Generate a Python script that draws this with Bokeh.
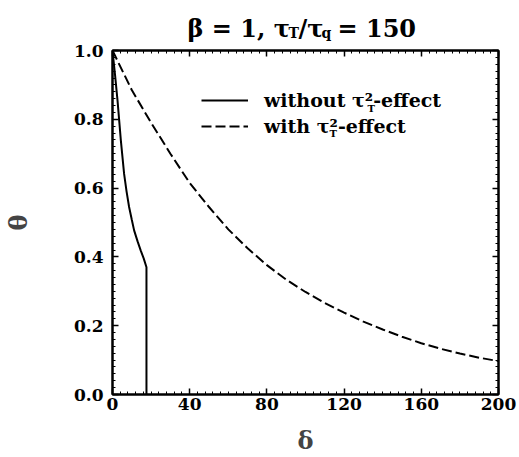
from bokeh.plotting import figure
from bokeh.layouts import column
from bokeh.models import (Label, Legend, LegendItem, LinearAxis, Range1d,
                          SingleIntervalTicker, PrintfTickFormatter)
from bokeh.embed import file_html
from bokeh.resources import INLINE

# ---- data ----
delta_without = [0, 1.3, 2.6, 4.3, 6.0, 7.3, 8.6, 10.0, 11.2, 13.0, 14.6, 16.2, 17.6, 17.6]
theta_without = [1.0, 0.93, 0.855, 0.74, 0.642, 0.59, 0.545, 0.508, 0.477, 0.445, 0.419, 0.395, 0.37, 0.0]

delta_with = [0, 10, 20, 30, 40, 50, 60, 70, 80, 90, 100, 110, 120, 130, 140, 150,
              160, 170, 180, 190, 200]
theta_with = [1.0, 0.885, 0.79, 0.70, 0.615, 0.545, 0.480, 0.425, 0.376, 0.334, 0.298,
              0.266, 0.238, 0.212, 0.189, 0.168, 0.149, 0.133, 0.119, 0.107, 0.097]

legend_labels = ["without \u03c4\u00b2-effect", "with \u03c4\u00b2-effect"]
title_parts = ["\u03b2 = 1, \u03c4", "T", "/\u03c4", "q", " = 150"]
x_label = "\u03b4"
y_label = "\u03b8"

FONT = "DejaVu Serif"
TITLE_H = 43
LEFT, RIGHT = 110, 21

# ---- title strip (main text with subscripts) ----
tf = figure(width=519, height=TITLE_H, output_backend="svg", toolbar_location=None,
            title=None, x_range=Range1d(0, 1), y_range=Range1d(0, 1),
            x_axis_location=None, y_axis_location=None,
            min_border_left=LEFT, min_border_right=RIGHT,
            min_border_top=0, min_border_bottom=0, outline_line_color=None)
tf.xgrid.visible = False
tf.ygrid.visible = False
title_x = [75, 176, 186, 209, 225]
title_y = [15, 11, 15, 11, 15]
title_size = ["24px", "14px", "24px", "14px", "24px"]
for t, tx, ty, ts in zip(title_parts, title_x, title_y, title_size):
    tf.add_layout(Label(x=tx, y=ty, x_units="screen", y_units="screen", text=t,
                        text_font=FONT, text_font_style="bold", text_font_size=ts,
                        text_color="black", text_baseline="alphabetic"))

# ---- main plot ----
p = figure(width=519, height=457 - TITLE_H, output_backend="svg", toolbar_location=None,
           title=None, x_range=Range1d(0, 200), y_range=Range1d(0, 1),
           min_border_left=LEFT, min_border_right=RIGHT,
           min_border_top=50 - TITLE_H, min_border_bottom=63)
p.xgrid.visible = False
p.ygrid.visible = False
p.outline_line_color = "black"
p.outline_line_width = 2
p.background_fill_color = "white"
p.border_fill_color = "white"

r1 = p.line(delta_without, theta_without, line_color="black", line_width=2)
r2 = p.line(delta_with, theta_with, line_color="black", line_width=2, line_dash="10 4")


def style_axis(ax, show_labels):
    ax.axis_line_width = 2
    ax.axis_line_color = "black"
    ax.major_tick_in = 6
    ax.major_tick_out = 0
    ax.minor_tick_in = 3
    ax.minor_tick_out = 0
    ax.major_tick_line_width = 1.5
    ax.minor_tick_line_width = 1
    ax.major_tick_line_color = "black"
    ax.minor_tick_line_color = "black"
    ax.major_label_text_font = FONT
    ax.major_label_text_font_style = "bold"
    ax.major_label_text_font_size = "17px"
    ax.major_label_text_color = "black"
    if not show_labels:
        ax.major_label_text_font_size = "0px"
        ax.major_label_text_color = None
        ax.major_label_standoff = 0


xa = p.xaxis[0]
xa.ticker = SingleIntervalTicker(interval=40, num_minor_ticks=10)
style_axis(xa, True)
xa.major_label_standoff = 3
xa.axis_label = x_label
xa.axis_label_text_font = FONT
xa.axis_label_text_font_style = "bold"
xa.axis_label_text_font_size = "24px"
xa.axis_label_standoff = 13

ya = p.yaxis[0]
ya.ticker = SingleIntervalTicker(interval=0.2, num_minor_ticks=10)
ya.formatter = PrintfTickFormatter(format="%.1f")
style_axis(ya, True)
ya.major_label_standoff = 9
ya.axis_label = y_label
ya.axis_label_text_font = FONT
ya.axis_label_text_font_style = "bold"
ya.axis_label_text_font_size = "24px"
ya.axis_label_standoff = 38

top = LinearAxis(ticker=SingleIntervalTicker(interval=40, num_minor_ticks=10))
style_axis(top, False)
p.add_layout(top, "above")
right = LinearAxis(ticker=SingleIntervalTicker(interval=0.2, num_minor_ticks=10))
style_axis(right, False)
p.add_layout(right, "right")

legend = Legend(items=[LegendItem(label=legend_labels[0], renderers=[r1]),
                       LegendItem(label=legend_labels[1], renderers=[r2])],
                location=(89, 257), orientation="vertical",
                label_text_font=FONT, label_text_font_style="bold",
                label_text_font_size="19px", label_text_color="black",
                glyph_width=47, glyph_height=18, label_height=18,
                label_standoff=16, spacing=4, padding=0, margin=0,
                border_line_color=None, background_fill_alpha=0)
p.add_layout(legend)

# subscripts under the superscript 2 in the legend
for sx, sy in [(255, 286), (217, 261)]:
    p.add_layout(Label(x=sx, y=sy, x_units="screen", y_units="screen", text="T",
                       text_font=FONT, text_font_style="bold", text_font_size="10px",
                       text_color="black", text_baseline="alphabetic"))

layout = column(tf, p, spacing=0)
open("out.html", "w").write(file_html(layout, INLINE))
